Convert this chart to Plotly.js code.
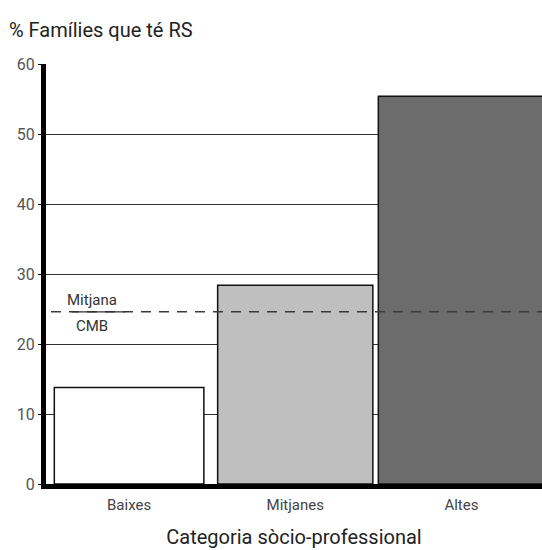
<!DOCTYPE html>
<html><head><meta charset="utf-8">
<script src="https://cdn.plot.ly/plotly-3.0.1.min.js"></script>
<style>html,body{margin:0;padding:0;background:#fff}#chart{width:542px;height:550px}</style>
</head><body><div id="chart"></div>
<script>
const categories = ["Baixes", "Mitjanes", "Altes"];
const values = [13.8, 28.4, 55.4];
const barColors = ["#ffffff", "#bfbfbf", "#6c6c6c"];
const meanValue = 24.6;
const yTicks = [0, 10, 20, 30, 40, 50, 60];

const FONT = 'Roboto, "Liberation Sans", sans-serif';

const traces = [{
  type: 'bar',
  x: categories,
  y: values,
  width: [0.9, 0.934, 1.0],
  marker: { color: barColors, line: { color: '#111', width: 1.5 } },
  hoverinfo: 'none'
}, {
  type: 'scatter',
  mode: 'lines',
  x: [-0.47, 2.5],
  y: [meanValue, meanValue],
  xaxis: 'x2',
  line: { color: '#3a3a3a', width: 1.5, dash: '10px,8px' },
  hoverinfo: 'none'
}];

const layout = {
  width: 542, height: 550,
  margin: { l: 46, r: 0, t: 64, b: 66 },
  paper_bgcolor: '#fff', plot_bgcolor: '#fff',
  showlegend: false,
  font: { family: FONT, color: '#333' },
  xaxis: {
    range: [-0.5, 2.485],
    showgrid: false, zeroline: false,
    showline: true, linecolor: '#000', linewidth: 5,
    ticks: 'outside', ticklen: 3, tickcolor: 'rgba(0,0,0,0)',
    tickfont: { size: 15, color: '#444', family: FONT },
    title: { text: 'Categoria sòcio-professional', font: { size: 20, color: '#222', family: FONT }, standoff: 18 }
  },
  xaxis2: { range: [-0.5, 2.485], overlaying: 'x', visible: false },
  yaxis: {
    range: [0, 60],
    tickvals: yTicks,
    showgrid: true, gridcolor: '#333', gridwidth: 1,
    zeroline: false,
    showline: true, linecolor: '#000', linewidth: 5,
    ticks: 'outside', ticklen: 3, tickcolor: '#000',
    tickfont: { size: 16, color: '#555', family: FONT }
  },
  annotations: [{
    text: '% Famílies que té RS', xref: 'paper', yref: 'paper',
    x: -0.078, y: 1.048, xanchor: 'left', yanchor: 'bottom', showarrow: false,
    font: { size: 20, color: '#222', family: FONT }
  }, {
    text: 'Mitjana', xref: 'paper', yref: 'y',
    x: 0.093, y: meanValue, xanchor: 'center', yanchor: 'bottom', yshift: 1, showarrow: false,
    font: { size: 15, color: '#333', family: FONT }
  }, {
    text: 'CMB', xref: 'paper', yref: 'y',
    x: 0.093, y: meanValue, xanchor: 'center', yanchor: 'top', yshift: -3, showarrow: false,
    font: { size: 15, color: '#333', family: FONT }
  }],
  shapes: [{
    type: 'line', xref: 'paper', yref: 'y', layer: 'above',
    x0: 0.052, x1: 0.16, y0: meanValue, y1: meanValue,
    line: { color: '#333', width: 1.2 }
  }]
};

Plotly.newPlot('chart', traces, layout, { staticPlot: true, displayModeBar: false });
</script></body></html>
